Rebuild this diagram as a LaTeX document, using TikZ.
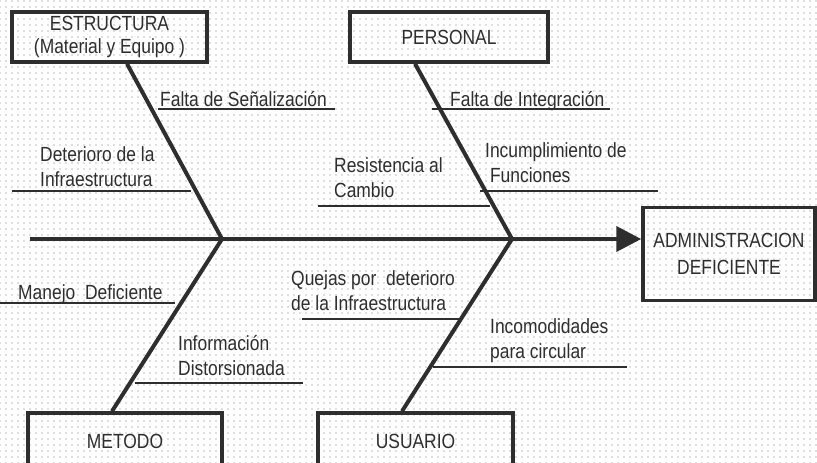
\documentclass[tikz,border=0pt]{standalone}
\usepackage{fontspec}
\setmainfont{Liberation Sans}[FakeStretch=0.85]
\usetikzlibrary{arrows.meta,patterns.meta}
\definecolor{ink}{HTML}{2E2E2E}
\begin{document}
\begin{tikzpicture}[x=1pt,y=-1pt,
    box/.style={draw=ink,line width=3.5pt,inner sep=0pt,align=center,text=ink,font=\fontsize{20.5}{25}\selectfont},
    bone/.style={draw=ink,line width=4pt},
    causeline/.style={draw=ink,line width=1.8pt},
    lbl/.style={anchor=base west,inner sep=0pt,text=ink,align=left,font=\fontsize{20.5}{24.5}\selectfont}]
  \useasboundingbox (0,0) rectangle (817,463);
  \clip (0,0) rectangle (817,463);
  \fill[white] (0,0) rectangle (817,463);
  \fill[pattern={Dots[distance=6pt,radius=0.8pt]},pattern color=gray!50] (0,0) rectangle (817,463);

  \node[box,minimum width=195pt,minimum height=50pt,font=\fontsize{20.5}{23}\selectfont] (es) at (109.5,37) {ESTRUCTURA\\(Material y Equipo )};
  \node[box,minimum width=198pt,minimum height=50pt] (pe) at (449,37) {PERSONAL};
  \node[box,minimum width=172pt,minimum height=93pt,font=\fontsize{20.5}{27}\selectfont] (ad) at (729,254) {ADMINISTRACION\\DEFICIENTE};
  \node[box,minimum width=194pt,minimum height=56pt] (me) at (125,441) {METODO};
  \node[box,minimum width=195pt,minimum height=56pt] (us) at (415.5,441) {USUARIO};

  \coordinate (tail) at (30,239);
  \coordinate (j1) at (222,239);
  \coordinate (j2) at (512,239);
  \draw[bone,-{Triangle[length=25pt,width=25pt]}] (tail) -- (ad.west |- tail);
  \draw[bone] (es.south -| 127,0) -- (j1) -- (me.north -| 112,0);
  \draw[bone] (pe.south -| 415,0) -- (j2) -- (us.north -| 402,0);

  \foreach \xa/\xb/\y in {158/335/109, 12/191/191, 318/490/206, 432/610/109, 480/658/191,
                          0/175/303, 135/303/383, 302/460/319, 433/627/367}
    \draw[causeline] (\xa,\y) -- (\xb,\y);

  \node[lbl] (c1) at (160,106) {Falta de Señalización};
  \node[lbl] (c2) at (40,186) {Deterioro de la\\Infraestructura};
  \node[lbl] (c3) at (334,197) {Resistencia al\\Cambio};
  \node[lbl] (c4) at (450,106) {Falta de Integración};
  \node[lbl] (c5) at (485,182) {Incumplimiento de\\\ Funciones};
  \node[lbl] (c6) at (18,299) {Manejo\ \ Deficiente};
  \node[lbl] (c7) at (178,375) {Información\\Distorsionada};
  \node[lbl] (c8) at (291,310) {Quejas por\ \ deterioro\\de la Infraestructura};
  \node[lbl] (c9) at (490,358) {Incomodidades\\para circular};
\end{tikzpicture}
\end{document}
